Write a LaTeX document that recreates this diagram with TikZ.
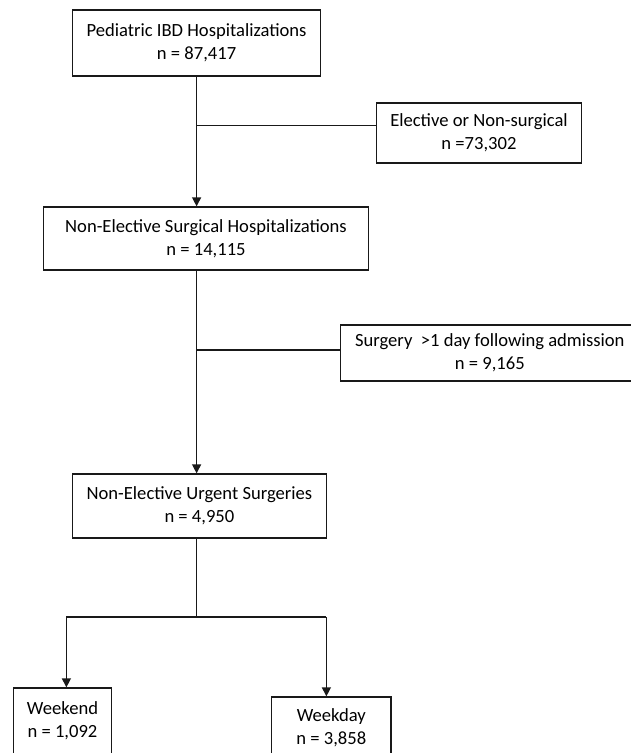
\documentclass[tikz,border=0pt]{standalone}
\usepackage{fontspec}
\setmainfont{Carlito}
\usetikzlibrary{arrows.meta}

\tikzset{
  flowbox/.style={draw=black!90, line width=1.3pt, align=center, inner sep=0pt,
    font=\fontsize{18.6}{23}\selectfont},
  flowline/.style={draw=black!90, line width=1.3pt},
  flowarrow/.style={flowline, -{Triangle[width=9pt,length=9pt]}}
}

\begin{document}
\begin{tikzpicture}[x=1pt, y=-1pt]
    \useasboundingbox (0,0) rectangle (631,753);
    \clip (0,0) rectangle (631,753);

    % All hospitalizations
    \node [flowbox, minimum width=248pt, minimum height=66pt] (hosp) at (196.6,43)
          {Pediatric IBD Hospitalizations\\n = 87,417};

    % Excluded: elective
    \node [flowbox, minimum width=205pt, minimum height=60pt] (elect) at (479,133)
          {Elective or Non-surgical\\n =73,302};

    % Non-elective surgical
    \node [flowbox, minimum width=325pt, minimum height=63pt] (nonel) at (206,238.5)
          {Non-Elective Surgical Hospitalizations\\n = 14,115};

    % Excluded: late surgery
    \node [flowbox, minimum width=298.5pt, minimum height=56pt] (later) at (489.8,353)
          {Surgery \ >1 day following admission\\n = 9,165};

    % Urgent surgeries
    \node [flowbox, minimum width=254pt, minimum height=64pt] (urgent) at (199.4,506)
          {Non-Elective Urgent Surgeries\\n = 4,950};

    % Weekend / weekday
    \node [flowbox, minimum width=98.4pt, minimum height=66pt] (wkend) at (62.5,721)
          {Weekend\\n = 1,092};
    \node [flowbox, minimum width=119.5pt, minimum height=62pt] (wkday) at (331.3,728)
          {Weekday\\n = 3,858};

    % Spine and branches
    \coordinate (split1) at (hosp.south |- 0,125.7);
    \coordinate (split2) at (hosp.south |- 0,350);
    \coordinate (split3) at (hosp.south |- 0,617);
    \coordinate (lftturn) at (66.4,617);
    \coordinate (rgtturn) at (326.4,617);

    \draw [flowarrow] (hosp.south) -- (hosp.south |- nonel.north);
    \draw [flowline] (split1) -- (split1 -| elect.west);

    \draw [flowarrow] (hosp.south |- nonel.south) -- (hosp.south |- urgent.north);
    \draw [flowline] (split2) -- (split2 -| later.west);

    \draw [flowline] (hosp.south |- urgent.south) -- (split3);
    \draw [flowline] (lftturn) -- (rgtturn);
    \draw [flowarrow] (lftturn) -- (lftturn |- wkend.north);
    \draw [flowarrow] (rgtturn) -- (rgtturn |- wkday.north);
\end{tikzpicture}
\end{document}
